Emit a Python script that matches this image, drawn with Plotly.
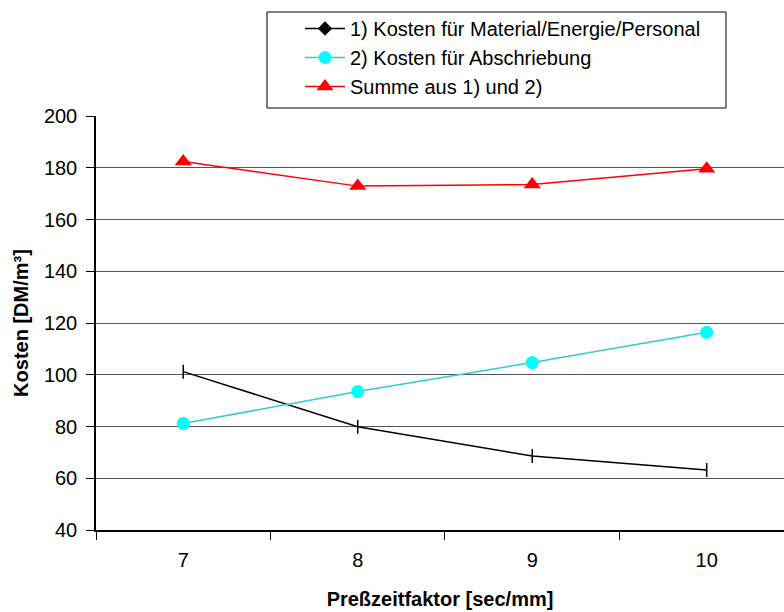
import plotly.graph_objects as go

# Pressing time factor categories and cost series (DM/m³)
faktor = ["7", "8", "9", "10"]
kosten_material = [101.2, 79.9, 68.6, 63.2]
kosten_abschreibung = [81.2, 93.5, 104.7, 116.4]
kosten_summe = [182.4, 172.9, 173.5, 179.6]

y_ticks = [40, 60, 80, 100, 120, 140, 160, 180, 200]

FONT = "Liberation Sans, Arial, sans-serif"

PLOT_L, PLOT_T, PLOT_B = 96, 116, 82
PLOT_W = 784 - PLOT_L
PLOT_H = 612 - PLOT_T - PLOT_B

fig = go.Figure()

# Material/energy/personnel: vertical dash markers on the curve
fig.add_trace(go.Scatter(
    x=faktor, y=kosten_material, mode="lines+markers",
    line=dict(color="black", width=1.5),
    marker=dict(symbol="line-ns-open", size=10, line=dict(color="black", width=1.5)),
    showlegend=False, hoverinfo="x+y",
))
# legend entry uses a diamond symbol
fig.add_trace(go.Scatter(
    x=[None], y=[None], mode="lines+markers",
    name="1) Kosten für Material/Energie/Personal",
    line=dict(color="black", width=1.5),
    marker=dict(symbol="diamond", size=11, color="black"),
))
fig.add_trace(go.Scatter(
    x=faktor, y=kosten_abschreibung, mode="lines+markers",
    name="2) Kosten für Abschriebung",
    line=dict(color="#33CCCC", width=1.5),
    marker=dict(symbol="circle", size=13, color="#00FFFF"),
))
fig.add_trace(go.Scatter(
    x=faktor, y=kosten_summe, mode="lines+markers",
    name="Summe aus 1) und 2)",
    line=dict(color="#FF0000", width=1.5),
    marker=dict(symbol="triangle-up", size=15, color="#FF0000"),
))

# Legend frame (wider than the legend's own box)
fig.add_shape(
    type="rect", xref="paper", yref="paper",
    x0=(267 - PLOT_L) / PLOT_W, x1=(726 - PLOT_L) / PLOT_W,
    y0=1 + (PLOT_T - 108) / PLOT_H, y1=1 + (PLOT_T - 12) / PLOT_H,
    line=dict(color="black", width=1), fillcolor="white", layer="above",
)

fig.update_layout(
    width=784, height=612,
    margin=dict(l=PLOT_L, r=0, t=PLOT_T, b=PLOT_B, autoexpand=False),
    paper_bgcolor="white", plot_bgcolor="white",
    font=dict(family=FONT, size=20, color="black"),
    legend=dict(
        x=(300 - PLOT_L) / PLOT_W, y=1 + (PLOT_T - 9) / PLOT_H,
        xanchor="left", yanchor="top",
        bgcolor="rgba(0,0,0,0)", borderwidth=0,
        font=dict(size=20), tracegroupgap=0, itemwidth=40,
    ),
    xaxis=dict(
        type="category", range=[-0.5, 3.443],
        tickson="boundaries", ticks="outside", ticklen=8, tickcolor="black",
        ticklabelstandoff=11,
        showline=True, linecolor="black", linewidth=1.5,
        showgrid=False, zeroline=False,
        title=dict(text="<b>Preßzeitfaktor [sec/mm]</b>", font=dict(size=20), standoff=22),
    ),
    yaxis=dict(
        range=[40, 200], tickvals=y_ticks,
        ticks="outside", ticklen=8, tickcolor="black",
        ticklabelstandoff=5,
        showline=True, linecolor="black", linewidth=1.5,
        showgrid=True, gridcolor="#555555", gridwidth=1.2,
        zeroline=False,
        title=dict(text="<b>Kosten [DM/m³]</b>", font=dict(size=20), standoff=10),
    ),
)

fig.write_html("out.html")
